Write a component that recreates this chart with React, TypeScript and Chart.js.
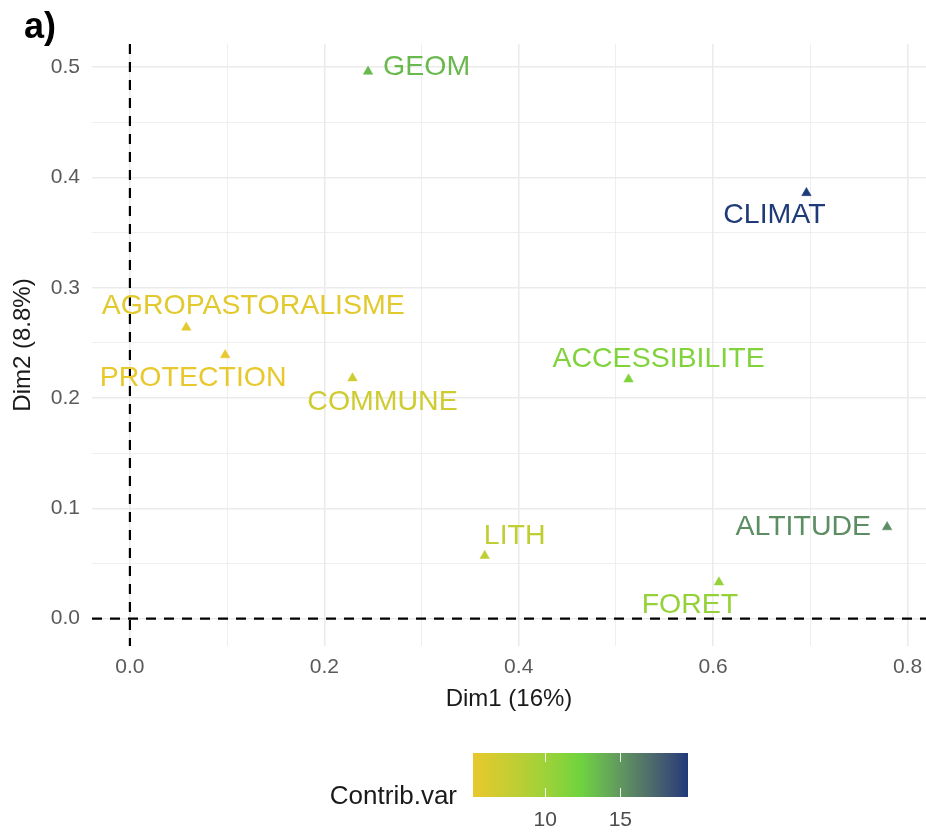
import React, { useEffect, useRef } from "react";
import { Chart, registerables } from "chart.js";

Chart.register(...registerables);

// ---------- data ----------
const VARIABLES = [
  "GEOM",
  "CLIMAT",
  "AGROPASTORALISME",
  "PROTECTION",
  "COMMUNE",
  "ACCESSIBILITE",
  "LITH",
  "FORET",
  "ALTITUDE",
];
const DIM1 = [0.245, 0.696, 0.058, 0.098, 0.229, 0.513, 0.365, 0.606, 0.779];
const DIM2 = [0.496, 0.386, 0.264, 0.239, 0.218, 0.217, 0.057, 0.033, 0.083];
const CONTRIB = [13.5, 19.5, 5.6, 5.2, 7.0, 11.5, 8.0, 10.5, 15.5];

const X_TICKS = [0, 0.1, 0.2, 0.3, 0.4, 0.5, 0.6, 0.7, 0.8];
const Y_TICKS = [0, 0.05, 0.1, 0.15, 0.2, 0.25, 0.3, 0.35, 0.4, 0.45, 0.5];
const LEGEND_TICKS = [10, 15];

const X_LIMITS = [-0.039, 0.819];
const Y_LIMITS = [-0.0248, 0.521];

const X_TITLE = "Dim1 (16%)";
const Y_TITLE = "Dim2 (8.8%)";
const LEGEND_TITLE = "Contrib.var";
const PANEL_TAG = "a)";

const GRADIENT_COLS = ["#E8C82C", "#6ED43E", "#1E3A78"];

// label placement (pixel offsets from the point, repel-like)
const LABEL_PLACEMENT = [
  { dx: 15, dy: -4, align: "left" },
  { dx: -32, dy: 22, align: "center" },
  { dx: 67, dy: -21, align: "center" },
  { dx: -32, dy: 23, align: "center" },
  { dx: 30, dy: 24, align: "center" },
  { dx: 30, dy: -20, align: "center" },
  { dx: 30, dy: -20, align: "center" },
  { dx: -29, dy: 23, align: "center" },
  { dx: -16, dy: 0, align: "right" },
];

// ---------- colour helpers (CIELAB interpolation like scales::colour_ramp) ----------
function hexToRgb(h: string): number[] {
  const s = h.replace("#", "");
  return [0, 2, 4].map((i) => parseInt(s.slice(i, i + 2), 16));
}
function toLin(c: number) {
  c /= 255;
  return c <= 0.04045 ? c / 12.92 : Math.pow((c + 0.055) / 1.055, 2.4);
}
function fromLin(c: number) {
  const v = c <= 0.0031308 ? 12.92 * c : 1.055 * Math.pow(c, 1 / 2.4) - 0.055;
  return Math.max(0, Math.min(255, Math.round(v * 255)));
}
const XN = 0.95047,
  YN = 1,
  ZN = 1.08883;
function rgbToLab(rgb: number[]) {
  const [r, g, b] = rgb.map(toLin);
  const X = (0.4124 * r + 0.3576 * g + 0.1805 * b) / XN;
  const Y = (0.2126 * r + 0.7152 * g + 0.0722 * b) / YN;
  const Z = (0.0193 * r + 0.1192 * g + 0.9505 * b) / ZN;
  const f = (t: number) => (t > 0.008856 ? Math.cbrt(t) : 7.787 * t + 16 / 116);
  const fx = f(X),
    fy = f(Y),
    fz = f(Z);
  return [116 * fy - 16, 500 * (fx - fy), 200 * (fy - fz)];
}
function labToRgb(lab: number[]) {
  const [L, a, b] = lab;
  const fy = (L + 16) / 116;
  const fx = fy + a / 500;
  const fz = fy - b / 200;
  const inv = (t: number) => (t * t * t > 0.008856 ? t * t * t : (t - 16 / 116) / 7.787);
  const X = inv(fx) * XN,
    Y = inv(fy) * YN,
    Z = inv(fz) * ZN;
  const r = 3.2406 * X - 1.5372 * Y - 0.4986 * Z;
  const g = -0.9689 * X + 1.8758 * Y + 0.0415 * Z;
  const bb = 0.0557 * X - 0.204 * Y + 1.057 * Z;
  return [fromLin(r), fromLin(g), fromLin(bb)];
}
const LABS = GRADIENT_COLS.map((c) => rgbToLab(hexToRgb(c)));
function ramp(t: number) {
  t = Math.max(0, Math.min(1, t));
  const seg = t * (LABS.length - 1);
  const i = Math.min(LABS.length - 2, Math.floor(seg));
  const u = seg - i;
  const lab = LABS[i].map((v, k) => v + (LABS[i + 1][k] - v) * u);
  const [r, g, b] = labToRgb(lab);
  return `rgb(${r},${g},${b})`;
}
const C_MIN = Math.min(...CONTRIB);
const C_MAX = Math.max(...CONTRIB);
const colourFor = (v: number) => ramp((v - C_MIN) / (C_MAX - C_MIN));

const FONT = "'Liberation Sans', Arial, Helvetica, sans-serif";

export default function App() {
  const canvasRef = useRef<HTMLCanvasElement | null>(null);

  useEffect(() => {
    document.body.style.margin = "0";
    const canvas = canvasRef.current;
    if (!canvas) return;
    const colours = CONTRIB.map(colourFor);

    const refLines = {
      id: "refLines",
      beforeDatasetsDraw(chart: any) {
        const { ctx, chartArea, scales } = chart;
        const x0 = scales.x.getPixelForValue(0);
        const y0 = scales.y.getPixelForValue(0);
        ctx.save();
        ctx.strokeStyle = "#000000";
        ctx.lineWidth = 2.2;
        ctx.setLineDash([10, 8]);
        ctx.beginPath();
        ctx.moveTo(x0, chartArea.top);
        ctx.lineTo(x0, chartArea.bottom);
        ctx.stroke();
        ctx.beginPath();
        ctx.moveTo(chartArea.left, y0);
        ctx.lineTo(chartArea.right, y0);
        ctx.stroke();
        ctx.restore();
      },
    };

    const pointLabels = {
      id: "pointLabels",
      afterDatasetsDraw(chart: any) {
        const { ctx } = chart;
        const meta = chart.getDatasetMeta(0);
        ctx.save();
        ctx.font = `28.5px ${FONT}`;
        ctx.textBaseline = "middle";
        meta.data.forEach((pt: any, i: number) => {
          const p = LABEL_PLACEMENT[i];
          ctx.fillStyle = colours[i];
          ctx.textAlign = p.align;
          ctx.fillText(VARIABLES[i], pt.x + p.dx, pt.y + p.dy);
        });
        ctx.restore();
      },
    };

    const chart = new Chart(canvas, {
      type: "scatter",
      data: {
        datasets: [
          {
            label: LEGEND_TITLE,
            data: DIM1.map((x, i) => ({ x, y: DIM2[i] })),
            pointStyle: "triangle",
            pointRadius: 5.5,
            pointBackgroundColor: colours,
            pointBorderColor: colours,
            pointBorderWidth: 0.5,
          },
        ],
      },
      options: {
        animation: false,
        responsive: false,
        maintainAspectRatio: false,
        layout: {
          autoPadding: false,
          padding: { left: 0, top: 44, right: 0, bottom: 118 },
        },
        plugins: {
          legend: { display: false },
          tooltip: { enabled: false },
        },
        scales: {
          x: {
            type: "linear",
            min: X_LIMITS[0],
            max: X_LIMITS[1],
            afterBuildTicks: (axis: any) => {
              axis.ticks = X_TICKS.map((v) => ({ value: v }));
            },
            afterFit: (scale: any) => {
              scale.height = 68;
              scale.paddingLeft = 0;
              scale.paddingRight = 0;
            },
            border: { display: false },
            grid: {
              color: "#EBEBEB",
              lineWidth: (ctx: any) =>
                Math.round((ctx.tick?.value ?? 0) * 10) % 2 === 0 ? 1.6 : 0.8,
              drawTicks: false,
            },
            ticks: {
              autoSkip: false,
              maxRotation: 0,
              padding: 9,
              color: "#5A5A5A",
              font: { family: FONT, size: 21 },
              callback: (v: any) =>
                Math.round(Number(v) * 10) % 2 === 0 ? Number(v).toFixed(1) : "",
            },
            title: {
              display: true,
              text: X_TITLE,
              color: "#1A1A1A",
              font: { family: FONT, size: 24 },
              padding: { top: 0, bottom: 0 },
            },
          },
          y: {
            type: "linear",
            min: Y_LIMITS[0],
            max: Y_LIMITS[1],
            afterBuildTicks: (axis: any) => {
              axis.ticks = Y_TICKS.map((v) => ({ value: v }));
            },
            afterFit: (scale: any) => {
              scale.width = 92;
              scale.paddingTop = 0;
              scale.paddingBottom = 0;
            },
            border: { display: false },
            grid: {
              color: "#EBEBEB",
              lineWidth: (ctx: any) =>
                Math.round((ctx.tick?.value ?? 0) * 100) % 10 === 0 ? 1.6 : 0.8,
              drawTicks: false,
            },
            ticks: {
              autoSkip: false,
              padding: 12,
              color: "#5A5A5A",
              font: { family: FONT, size: 21 },
              callback: (v: any) =>
                Math.round(Number(v) * 100) % 10 === 0 ? Number(v).toFixed(1) : "",
            },
            title: {
              display: true,
              text: Y_TITLE,
              color: "#1A1A1A",
              font: { family: FONT, size: 24 },
              padding: { top: 9, bottom: 0 },
            },
          },
        },
      },
      plugins: [refLines, pointLabels],
    } as any);

    return () => chart.destroy();
  }, []);

  // colourbar
  const barLeft = 473;
  const barWidth = 215;
  const stops: string[] = [];
  for (let i = 0; i <= 20; i++) stops.push(`${ramp(i / 20)} ${(i / 20) * 100}%`);
  const tickPos = (v: number) => ((v - C_MIN) / (C_MAX - C_MIN)) * barWidth;

  return (
    <div style={{ position: "relative", width: 926, height: 832, fontFamily: FONT }}>
      <canvas ref={canvasRef} width={926} height={832} style={{ display: "block" }} />
      <div
        style={{
          position: "absolute",
          left: 24,
          top: 6,
          fontSize: 36,
          fontWeight: "bold",
          color: "#000",
          lineHeight: "40px",
        }}
      >
        {PANEL_TAG}
      </div>
      <div
        style={{
          position: "absolute",
          right: 926 - 457,
          top: 779,
          fontSize: 26,
          color: "#1A1A1A",
          lineHeight: "32px",
          whiteSpace: "nowrap",
        }}
      >
        {LEGEND_TITLE}
      </div>
      <div
        style={{
          position: "absolute",
          left: barLeft,
          top: 753,
          width: barWidth,
          height: 44,
          background: `linear-gradient(to right, ${stops.join(", ")})`,
        }}
      >
        {LEGEND_TICKS.map((t) => (
          <React.Fragment key={t}>
            <div
              style={{
                position: "absolute",
                left: tickPos(t) - 0.5,
                top: 0,
                width: 1,
                height: 9,
                background: "rgba(255,255,255,0.9)",
              }}
            />
            <div
              style={{
                position: "absolute",
                left: tickPos(t) - 0.5,
                bottom: 0,
                width: 1,
                height: 9,
                background: "rgba(255,255,255,0.9)",
              }}
            />
          </React.Fragment>
        ))}
      </div>
      {LEGEND_TICKS.map((t) => (
        <div
          key={t}
          style={{
            position: "absolute",
            left: barLeft + tickPos(t) - 30,
            width: 60,
            top: 806,
            textAlign: "center",
            fontSize: 21,
            color: "#4D4D4D",
            lineHeight: "26px",
          }}
        >
          {t}
        </div>
      ))}
    </div>
  );
}
